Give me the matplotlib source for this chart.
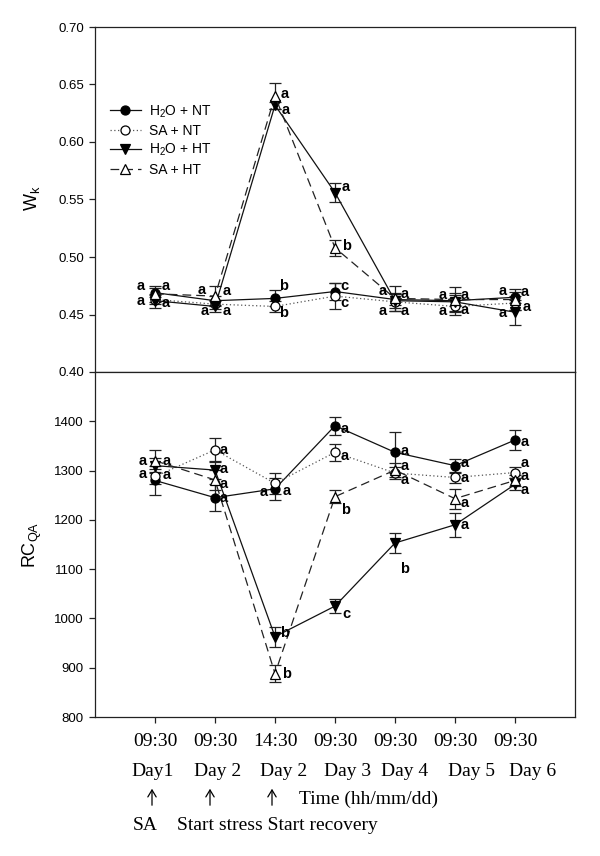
import matplotlib
matplotlib.use("Agg")
import matplotlib.pyplot as plt
from matplotlib.patches import FancyArrowPatch

plt.rcParams['font.family'] = ['Liberation Sans', 'DejaVu Sans']
plt.rcParams['mathtext.fontset'] = 'custom'
plt.rcParams['mathtext.rm'] = 'Liberation Sans'
plt.rcParams['mathtext.it'] = 'Liberation Sans:italic'
plt.rcParams['mathtext.bf'] = 'Liberation Sans:bold'

# ---------------- data ----------------
x_pos = [1, 2, 3, 4, 5, 6, 7]
time_labels = ["09:30", "09:30", "14:30", "09:30", "09:30", "09:30", "09:30"]
day_labels = ["Day1", "Day 2", "Day 2", "Day 3", "Day 4", "Day 5", "Day 6"]
series_names = ["H$_2$O + NT", "SA + NT", "H$_2$O + HT", "SA + HT"]

wk_h2o_nt = [0.469, 0.462, 0.464, 0.470, 0.463, 0.462, 0.465]
wk_sa_nt = [0.463, 0.459, 0.457, 0.466, 0.461, 0.457, 0.460]
wk_h2o_ht = [0.462, 0.457, 0.632, 0.556, 0.462, 0.461, 0.452]
wk_sa_ht = [0.468, 0.466, 0.640, 0.508, 0.464, 0.463, 0.463]
wk_err_h2o_nt = [0.004, 0.004, 0.007, 0.007, 0.005, 0.005, 0.005]
wk_err_sa_nt = [0.004, 0.004, 0.005, 0.011, 0.008, 0.007, 0.006]
wk_err_h2o_ht = [0.006, 0.005, 0.003, 0.008, 0.006, 0.008, 0.011]
wk_err_sa_ht = [0.007, 0.009, 0.011, 0.007, 0.011, 0.011, 0.009]

rc_h2o_nt = [1280, 1245, 1263, 1391, 1337, 1310, 1362]
rc_sa_nt = [1288, 1342, 1274, 1337, 1295, 1286, 1296]
rc_h2o_ht = [1310, 1301, 963, 1025, 1153, 1190, 1272]
rc_sa_ht = [1320, 1281, 888, 1247, 1301, 1243, 1280]
rc_err_h2o_nt = [30, 28, 22, 18, 42, 14, 20]
rc_err_sa_nt = [15, 25, 22, 17, 12, 12, 12]
rc_err_h2o_ht = [15, 18, 20, 15, 20, 24, 12]
rc_err_sa_ht = [22, 20, 18, 13, 15, 20, 12]

# significance letters: (series index, point index, letter)
wk_letters = [
    (0, 0, "a"), (3, 0, "a"), (1, 0, "a"), (2, 0, "a"),
    (3, 1, "a"), (0, 1, "a"), (2, 1, "a"), (1, 1, "a"),
    (0, 2, "b"), (1, 2, "b"), (3, 2, "a"), (2, 2, "a"),
    (2, 3, "a"), (3, 3, "b"), (0, 3, "c"), (1, 3, "c"),
    (3, 4, "a"), (0, 4, "a"), (2, 4, "a"), (1, 4, "a"),
    (3, 5, "a"), (0, 5, "a"), (2, 5, "a"), (1, 5, "a"),
    (0, 6, "a"), (3, 6, "a"), (2, 6, "a"), (1, 6, "a"),
]
rc_letters = [
    (3, 0, "a"), (2, 0, "a"), (1, 0, "a"), (0, 0, "a"),
    (1, 1, "a"), (2, 1, "a"), (3, 1, "a"), (0, 1, "a"),
    (0, 2, "a"), (1, 2, "a"), (2, 2, "b"), (3, 2, "b"),
    (0, 3, "a"), (1, 3, "a"), (3, 3, "b"), (2, 3, "c"),
    (0, 4, "a"), (3, 4, "a"), (1, 4, "a"), (2, 4, "b"),
    (0, 5, "a"), (1, 5, "a"), (3, 5, "a"), (2, 5, "a"),
    (0, 6, "a"), (1, 6, "a"), (3, 6, "a"), (2, 6, "a"),
]
# pixel offsets for letters (layout only)
wk_offsets = [
    (-14, 7), (11, 8), (-14, -1), (11, -2),
    (-13, 6), (12, 10), (-10, -5), (12, -7),
    (9, 12), (9, -7), (10, 2), (11, -5),
    (11, 6), (12, 2), (9, 5), (9, -7),
    (-12, 7), (10, 6), (-12, -10), (10, -9),
    (-12, 5), (10, 6), (-12, -9), (10, -4),
    (-12, 6), (10, 8), (-12, -1), (12, -4),
]
rc_offsets = [
    (-12, 0), (12, 5), (-12, 2), (12, 5),
    (9, 0), (9, 1), (9, -4), (9, 0),
    (-11, -3), (12, -8), (10, 4), (12, 0),
    (10, -3), (10, -4), (11, -13), (11, -8),
    (10, 1), (10, 4), (10, -7), (10, -26),
    (10, 3), (10, -1), (10, -4), (10, 0),
    (10, -2), (10, 10), (10, 4), (10, -6),
]

W, H = 600, 856
fig = plt.figure(figsize=(6.0, 8.56), dpi=100)
ax1 = fig.add_axes([95 / W, 1 - 372 / H, 480 / W, 345 / H])
ax2 = fig.add_axes([95 / W, 1 - 717 / H, 480 / W, 345 / H])

styles = [
    dict(ls='-', color='#111111', marker='o', mfc='black', mec='black', ms=6.5),
    dict(ls=(0, (1, 2)), color='#555555', marker='o', mfc='white', mec='black', ms=6.5),
    dict(ls='-', color='#111111', marker='v', mfc='black', mec='black', ms=7),
    dict(ls=(0, (7, 4)), color='#222222', marker='^', mfc='white', mec='black', ms=6.5),
]

wk_vals = [wk_h2o_nt, wk_sa_nt, wk_h2o_ht, wk_sa_ht]
wk_errs = [wk_err_h2o_nt, wk_err_sa_nt, wk_err_h2o_ht, wk_err_sa_ht]
rc_vals = [rc_h2o_nt, rc_sa_nt, rc_h2o_ht, rc_sa_ht]
rc_errs = [rc_err_h2o_nt, rc_err_sa_nt, rc_err_h2o_ht, rc_err_sa_ht]

def draw(ax, vals, errs):
    handles = []
    for v, e in zip(vals, errs):
        ax.errorbar(x_pos, v, yerr=e, fmt='none', ecolor='#222222', elinewidth=0.9,
                    capsize=4.5, capthick=0.9, zorder=2)
    for i, v in enumerate(vals):
        st = styles[i]
        h, = ax.plot(x_pos, v, linestyle=st['ls'], color=st['color'], lw=0.9,
                     marker=st['marker'], mfc=st['mfc'], mec=st['mec'], mew=0.9,
                     ms=st['ms'], zorder=3 + i * 0.1, label=series_names[i])
        handles.append(h)
    return handles

def letters(ax, vals, lst, offs):
    for (si, pi, t), (dx, dy) in zip(lst, offs):
        ax.annotate(t, xy=(x_pos[pi], vals[si][pi]), xytext=(dx, dy),
                    textcoords='offset pixels', ha='center', va='center',
                    fontsize=10.5, fontweight='bold', zorder=6)

h = draw(ax1, wk_vals, wk_errs)
draw(ax2, rc_vals, rc_errs)
letters(ax1, wk_vals, wk_letters, wk_offsets)
letters(ax2, rc_vals, rc_letters, rc_offsets)

ax1.set_xlim(0, 8)
ax2.set_xlim(0, 8)
ax1.set_ylim(0.40, 0.70)
ax1.set_yticks([0.40, 0.45, 0.50, 0.55, 0.60, 0.65, 0.70])
ax1.set_yticklabels(["0.40", "0.45", "0.50", "0.55", "0.60", "0.65", "0.70"])
ax2.set_ylim(800, 1500)
ax2.set_yticks([800, 900, 1000, 1100, 1200, 1300, 1400])
ax1.set_xticks([])
ax2.set_xticks(x_pos)
ax2.set_xticklabels([])

for ax in (ax1, ax2):
    for s in ax.spines.values():
        s.set_color('#222222')
        s.set_linewidth(0.9)
    ax.tick_params(axis='y', direction='out', length=4, width=0.9, color='#222222',
                   labelsize=9.5, pad=4)
    ax.tick_params(axis='x', direction='out', length=4, width=0.9, color='#222222')

leg = ax1.legend(handles=h, loc='upper left', bbox_to_anchor=(0.02, 0.795),
                 borderaxespad=0, frameon=False, fontsize=10, handlelength=2.2,
                 handletextpad=0.6, labelspacing=0.3)

# y-axis labels
narrow = ['Liberation Sans Narrow', 'Liberation Sans', 'DejaVu Sans']
fig.text(32 / W, 1 - 198 / H, "W$_\\mathrm{k}$", rotation=90, ha='center', va='center',
         fontsize=13, family=narrow)
fig.text(32 / W, 1 - 545 / H, "RC$_\\mathrm{QA}$", rotation=90, ha='center', va='center',
         fontsize=13, family=narrow)

serif = ['Liberation Serif', 'DejaVu Serif']
fs = 14
for i, t in enumerate(time_labels):
    fig.text((95 + 60 * x_pos[i]) / W, 1 - 742 / H, t, ha='center', va='center',
             fontsize=fs, family=serif)
day_px = [153, 218, 284, 348, 405, 471, 533]
for px, t in zip(day_px, day_labels):
    fig.text(px / W, 1 - 771 / H, t, ha='center', va='center', fontsize=fs, family=serif)

for px in [152, 210, 272]:
    arr = FancyArrowPatch((px / W, 1 - 808 / H), (px / W, 1 - 786 / H),
                          transform=fig.transFigure, arrowstyle='->,head_length=5,head_width=3',
                          color='black', lw=0.9, mutation_scale=1)
    fig.add_artist(arr)

fig.text(299 / W, 1 - 799 / H, "Time (hh/mm/dd)", ha='left', va='center', fontsize=fs, family=serif)
fig.text(133 / W, 1 - 826 / H, "SA", ha='left', va='center', fontsize=fs, family=serif)
fig.text(177 / W, 1 - 826 / H, "Start stress Start recovery", ha='left', va='center',
         fontsize=fs, family=serif)

fig.savefig("out.png", dpi=100)
